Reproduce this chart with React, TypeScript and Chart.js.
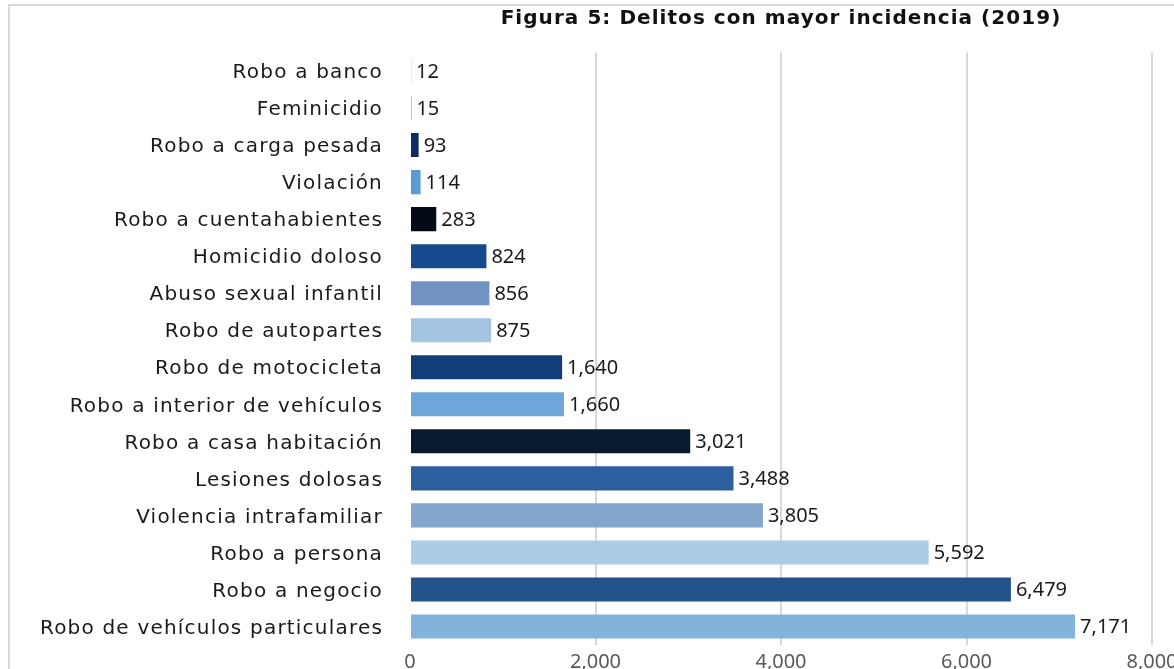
import React, { useEffect, useRef } from "react";
import { Chart, registerables } from "chart.js";

Chart.register(...registerables);

const TITLE = "Figura 5: Delitos con mayor incidencia (2019)";

const categories = [
  "Robo a banco",
  "Feminicidio",
  "Robo a carga pesada",
  "Violación",
  "Robo a cuentahabientes",
  "Homicidio doloso",
  "Abuso sexual infantil",
  "Robo de autopartes",
  "Robo de motocicleta",
  "Robo a interior de vehículos",
  "Robo a casa habitación",
  "Lesiones dolosas",
  "Violencia intrafamiliar",
  "Robo a persona",
  "Robo a negocio",
  "Robo de vehículos particulares",
];

const values = [12, 15, 93, 114, 283, 824, 856, 875, 1640, 1660, 3021, 3488, 3805, 5592, 6479, 7171];

const barColors = [
  "#1f4e79",
  "#2e75b6",
  "#0d2c63",
  "#5b9bd5",
  "#030b16",
  "#154b8c",
  "#7093c4",
  "#a2c3e1",
  "#113d79",
  "#6fa6d9",
  "#071a2e",
  "#2c5f9e",
  "#83a6cc",
  "#accbe4",
  "#24528b",
  "#82b3dd",
];

const xTicks = [0, 2000, 4000, 6000, 8000];

const FONT = "'Noto Sans', sans-serif";
const LABEL_FONT = "'DejaVu Sans', sans-serif";

const CANVAS_W = 1164;
const CANVAS_H = 663;

export default function App() {
  const ref = useRef<HTMLCanvasElement | null>(null);

  useEffect(() => {
    if (!ref.current) return;

    const spacingPlugin = {
      id: "labelSpacing",
      beforeDraw(chart: any) {
        chart.ctx.letterSpacing = "1.2px";
      },
      beforeDatasetsDraw(chart: any) {
        chart.ctx.letterSpacing = "0px";
      },
    };

    const labelPlugin = {
      id: "valueLabels",
      afterDatasetsDraw(chart: any) {
        const ctx = chart.ctx;
        const meta = chart.getDatasetMeta(0);
        ctx.save();
        ctx.letterSpacing = "0px";
        ctx.font = `20px ${FONT}`;
        ctx.fillStyle = "#1a1a1a";
        ctx.textAlign = "left";
        ctx.textBaseline = "middle";
        meta.data.forEach((bar: any, i: number) => {
          ctx.fillText(values[i].toLocaleString("en-US"), bar.x + 5, bar.y + 1);
        });
        ctx.restore();
      },
    };

    const titlePlugin = {
      id: "customTitle",
      afterDraw(chart: any) {
        const ctx = chart.ctx;
        ctx.save();
        ctx.letterSpacing = "1.05px";
        ctx.font = `bold 20px ${LABEL_FONT}`;
        ctx.fillStyle = "#111111";
        ctx.textAlign = "center";
        ctx.textBaseline = "middle";
        const cx = (chart.chartArea.left + chart.chartArea.right) / 2;
        ctx.fillText(TITLE, cx, 13);
        ctx.restore();
      },
    };

    const chart = new Chart(ref.current, {
      type: "bar",
      data: {
        labels: categories,
        datasets: [
          {
            data: values,
            backgroundColor: barColors,
            borderWidth: 0,
            barPercentage: 0.65,
            categoryPercentage: 1,
          },
        ],
      },
      options: {
        indexAxis: "y",
        animation: false,
        responsive: false,
        maintainAspectRatio: false,
        layout: {
          padding: { top: 46.5, bottom: 0, right: 22, left: 0 },
        },
        plugins: {
          legend: { display: false },
          title: { display: false },
          tooltip: { enabled: false },
        },
        scales: {
          x: {
            min: 0,
            max: 8000,
            afterBuildTicks(scale: any) {
              scale.ticks = xTicks.map((v) => ({ value: v }));
            },
            afterFit(scale: any) {
              scale.height = 24;
              scale.paddingLeft = 0;
              scale.paddingRight = 0;
            },
            border: { display: false },
            grid: {
              drawTicks: false,
              lineWidth: 2,
              color: (c: any) => (c.tick && c.tick.value === 0 ? "rgba(0,0,0,0)" : "#d9d9d9"),
            },
            ticks: {
              z: 1,
              padding: 5,
              color: "#595959",
              font: { family: FONT, size: 20 },
              callback: (v: any) => Number(v).toLocaleString("en-US"),
            },
          },
          y: {
            afterFit(scale: any) {
              scale.width = 400;
              scale.paddingTop = 0;
              scale.paddingBottom = 0;
            },
            border: { display: false },
            grid: { display: false, drawTicks: false },
            ticks: {
              padding: 27,
              labelOffset: 2,
              color: "#1a1a1a",
              font: { family: LABEL_FONT, size: 20 },
            },
          },
        },
      },
      plugins: [spacingPlugin, labelPlugin, titlePlugin],
    });

    return () => chart.destroy();
  }, []);

  return (
    <div
      style={{
        position: "fixed",
        left: 8,
        top: 4,
        width: CANVAS_W + 2,
        height: CANVAS_H + 2,
        borderLeft: "2px solid #d9d9d9",
        borderTop: "2px solid #d9d9d9",
        boxSizing: "border-box",
        background: "#ffffff",
      }}
    >
      <canvas
        ref={ref}
        width={CANVAS_W}
        height={CANVAS_H}
        style={{ display: "block", width: CANVAS_W, height: CANVAS_H }}
      />
    </div>
  );
}
